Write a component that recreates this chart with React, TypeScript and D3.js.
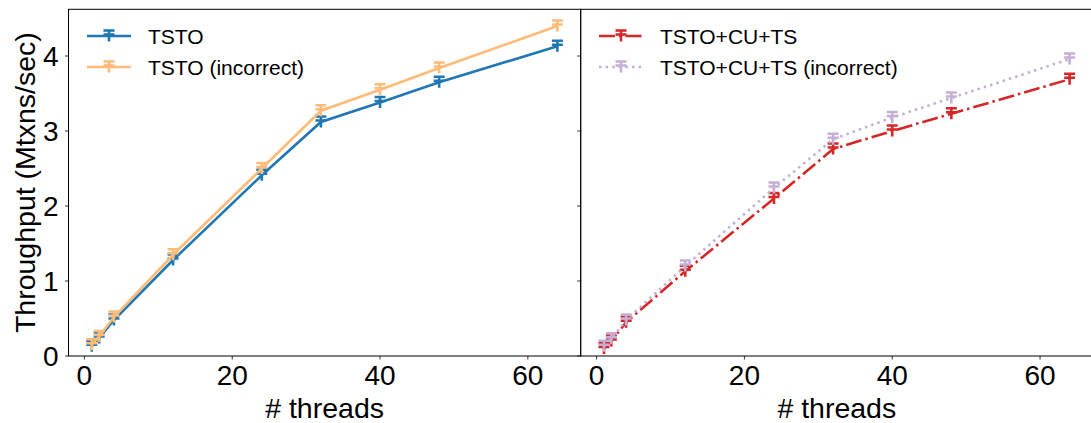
import React from "react";
import * as d3 from "d3";

const threads = [1, 2, 4, 12, 24, 32, 40, 48, 64];
const tsto = [0.13, 0.24, 0.48, 1.28, 2.41, 3.12, 3.38, 3.65, 4.13];
const tstoIncorrect = [0.15, 0.26, 0.52, 1.35, 2.5, 3.27, 3.55, 3.84, 4.4];
const tstoCuTs = [0.1, 0.2, 0.45, 1.13, 2.1, 2.76, 3.0, 3.23, 3.69];
const tstoCuTsIncorrect = [0.13, 0.23, 0.48, 1.2, 2.24, 2.89, 3.18, 3.44, 3.96];
const xTicks = [0, 20, 40, 60];
const yTicks = [0, 1, 2, 3, 4];

type Series = { name: string; values: number[]; color: string; dash: string | null };

const leftSeries: Series[] = [
  { name: "TSTO", values: tsto, color: "#1f77b4", dash: null },
  { name: "TSTO (incorrect)", values: tstoIncorrect, color: "#ffbb78", dash: null },
];
const rightSeries: Series[] = [
  { name: "TSTO+CU+TS", values: tstoCuTs, color: "#d62728", dash: "16,4,2.5,4" },
  { name: "TSTO+CU+TS (incorrect)", values: tstoCuTsIncorrect, color: "#c5b0d5", dash: "2.5,4.1" },
];

const W = 1091;
const H = 423;
const top = 9.3;
const bottom = 356;
const font = "Liberation Sans, Arial, sans-serif";

function ErrGlyph({ x, y, color }: { x: number; y: number; color: string }) {
  return (
    <g stroke={color} strokeWidth={2.6} fill="none">
      <line x1={x} x2={x} y1={y - 5.5} y2={y + 5.5} />
      <line x1={x - 5.5} x2={x + 5.5} y1={y - 5.5} y2={y - 5.5} />
      <line x1={x - 5.5} x2={x + 5.5} y1={y - 1.5} y2={y - 1.5} />
    </g>
  );
}

function Panel({ x0, x1, series, showYLabels, legendX }: { x0: number; x1: number; series: Series[]; showYLabels: boolean; legendX: number }) {
  const xs = d3.scaleLinear().domain([-2.15, 67.15]).range([x0, x1]);
  const ys = d3.scaleLinear().domain([0, (bottom - top) / 75]).range([bottom, top]);
  const line = d3.line<number>().x((_, i) => xs(threads[i])).y((v) => ys(v));
  return (
    <g>
      <defs>
        <clipPath id={`clip${Math.round(x0)}`}>
          <rect x={x0} y={top} width={x1 - x0} height={bottom - top} />
        </clipPath>
      </defs>
      <g clipPath={`url(#clip${Math.round(x0)})`}>
        {series.map((s) => (
          <g key={s.name}>
            <path d={line(s.values) || ""} fill="none" stroke={s.color} strokeWidth={2.6} strokeDasharray={s.dash || undefined} />
            {s.values.map((v, i) => (
              <ErrGlyph key={i} x={xs(threads[i])} y={ys(v)} color={s.color} />
            ))}
          </g>
        ))}
      </g>
      <rect x={x0} y={top} width={x1 - x0} height={bottom - top} fill="none" stroke="#000" strokeWidth={1} />
      {xTicks.map((t) => (
        <g key={t}>
          <line x1={xs(t)} x2={xs(t)} y1={bottom} y2={bottom + 3.5} stroke="#000" strokeWidth={0.8} />
          <text x={xs(t)} y={385} textAnchor="middle" fontSize={28} fontFamily={font}>{t}</text>
        </g>
      ))}
      {yTicks.map((t) => (
        <g key={t}>
          <line x1={x0} x2={x0 - 3.5} y1={ys(t)} y2={ys(t)} stroke="#000" strokeWidth={0.8} />
          {showYLabels && (
            <text x={x0 - 10} y={ys(t) + 10} textAnchor="end" fontSize={28} fontFamily={font}>{t}</text>
          )}
        </g>
      ))}
      <text x={(x0 + x1) / 2} y={418} textAnchor="middle" fontSize={28.5} fontFamily={font}># threads</text>
      {series.map((s, i) => {
        const ly = 36 + i * 31;
        return (
          <g key={s.name}>
            <line x1={legendX} x2={legendX + 44} y1={ly} y2={ly} stroke={s.color} strokeWidth={2.6} strokeDasharray={s.dash || undefined} />
            <ErrGlyph x={legendX + 22} y={ly} color={s.color} />
            <text x={legendX + 61} y={ly + 7.5} fontSize={21} fontFamily={font}>{s.name}</text>
          </g>
        );
      })}
    </g>
  );
}

export default function App() {
  return (
    <svg width={W} height={H} style={{ position: "absolute", left: 0, top: 0, background: "#fff" }}>
      <rect width={W} height={H} fill="#fff" />
      <Panel x0={68.5} x1={580.7} series={leftSeries} showYLabels={true} legendX={87} />
      <Panel x0={580.7} x1={1092.9} series={rightSeries} showYLabels={false} legendX={599} />
      <text transform={`translate(35,${(top + bottom) / 2}) rotate(-90)`} textAnchor="middle" fontSize={28.5} fontFamily={font}>Throughput (Mtxns/sec)</text>
    </svg>
  );
}
